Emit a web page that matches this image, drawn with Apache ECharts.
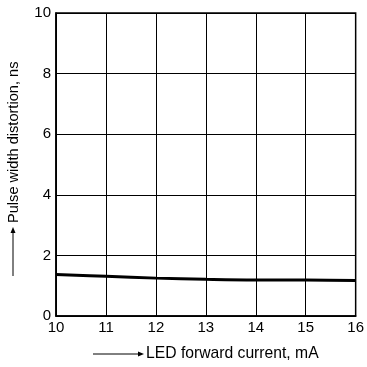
<!DOCTYPE html>
<html>
<head>
<meta charset="utf-8">
<script src="https://cdn.jsdelivr.net/npm/echarts@6/dist/echarts.min.js"></script>
<style>
  html, body { margin: 0; padding: 0; background: #fff; }
  #chart { width: 367px; height: 367px; }
</style>
</head>
<body>
<div id="chart"></div>
<script>
// LED forward current (mA) vs. pulse width distortion (ns)
const currentMA = [10, 11, 12, 13, 14, 15, 16];
const distortionNs = [1.37, 1.31, 1.25, 1.21, 1.19, 1.19, 1.17];
const xTicks = [10, 11, 12, 13, 14, 15, 16];
const yTicks = [0, 2, 4, 6, 8, 10];

const FONT = '"Liberation Sans", Arial, Helvetica, sans-serif';

const chart = echarts.init(document.getElementById('chart'), null, { renderer: 'canvas' });

const points = currentMA.map((x, i) => [x, distortionNs[i]]);

chart.setOption({
  animation: false,
  backgroundColor: '#fff',
  grid: {
    left: 56, right: 9, top: 13, bottom: 51,
    show: true, borderColor: '#000', borderWidth: 1.5, backgroundColor: 'transparent'
  },
  xAxis: {
    type: 'value',
    min: xTicks[0], max: xTicks[xTicks.length - 1], interval: 1,
    axisLine: { show: true, onZero: false, lineStyle: { color: '#000', width: 1.5 } },
    axisTick: { show: false },
    axisLabel: { color: '#000', fontSize: 15, fontFamily: FONT, margin: 4 },
    splitLine: { show: true, lineStyle: { color: '#000', width: 1 } }
  },
  yAxis: {
    type: 'value',
    min: yTicks[0], max: yTicks[yTicks.length - 1], interval: 2,
    axisLine: { show: true, lineStyle: { color: '#000', width: 1.5 } },
    axisTick: { show: false },
    axisLabel: { color: '#000', fontSize: 15, fontFamily: FONT, margin: 5 },
    splitLine: { show: true, lineStyle: { color: '#000', width: 1 } }
  },
  series: [{
    type: 'line',
    data: points,
    smooth: 0.4,
    showSymbol: false,
    lineStyle: { color: '#000', width: 3 }
  }],
  graphic: [
    // x-axis title with leading arrow
    { type: 'line', shape: { x1: 93, y1: 354, x2: 139, y2: 354 }, style: { stroke: '#000', lineWidth: 1 } },
    { type: 'polygon', shape: { points: [[138, 351.5], [144, 354], [138, 356.5]] }, style: { fill: '#000' } },
    { type: 'text', x: 146, y: 354, style: { text: 'LED forward current, mA', font: '15.7px ' + FONT, fill: '#000', verticalAlign: 'middle' } },
    // y-axis title with leading arrow (rotated)
    { type: 'line', shape: { x1: 13, y1: 276, x2: 13, y2: 232 }, style: { stroke: '#000', lineWidth: 1 } },
    { type: 'polygon', shape: { points: [[10.5, 233], [13, 227], [15.5, 233]] }, style: { fill: '#000' } },
    { type: 'text', x: 14, y: 223, rotation: Math.PI / 2, style: { text: 'Pulse width distortion, ns', font: '14.6px ' + FONT, fill: '#000', verticalAlign: 'middle', align: 'left' } }
  ]
});
</script>
</body>
</html>
